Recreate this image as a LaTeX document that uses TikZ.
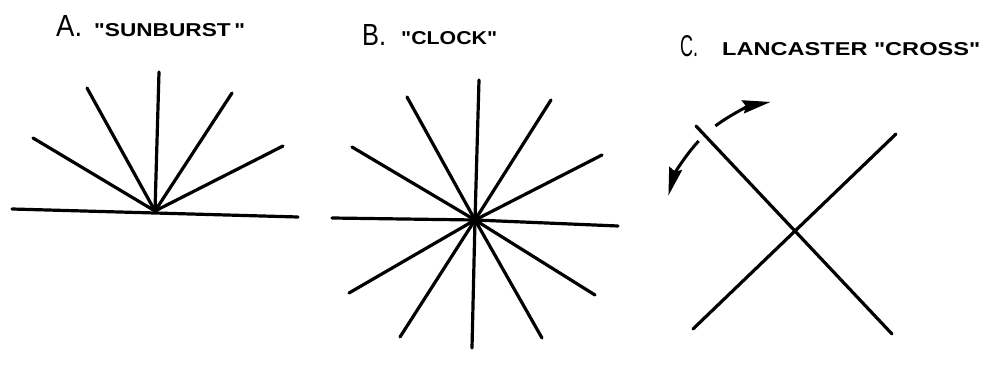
\documentclass[tikz,border=0pt]{standalone}
\usepackage{fontspec}
\setmainfont{Liberation Sans}[Ligatures=TeXOff]
\usetikzlibrary{arrows.meta,calc}
\begin{document}
\begin{tikzpicture}[x=1pt,y=1pt,
  stroke/.style={line width=3.2pt,line cap=round,black},
  rotarrow/.style={line width=3pt,-{Stealth[length=28pt,width=13pt,inset=3pt]}},
  ttl/.style={inner sep=0pt,anchor=base west}]
\useasboundingbox[fill=white] (0,0) rectangle (997,365);
% titles
\node[ttl] (tA) at (56,328) {\resizebox{26pt}{21pt}{A.}};
\node[ttl] (lA) at (94,328) {\resizebox{151pt}{13pt}{\bfseries "SUNBURST\,"}};
\node[ttl] (tB) at (362,319) {\resizebox{24pt}{21pt}{B.}};
\node[ttl] (lB) at (401,320) {\resizebox{96pt}{13pt}{\bfseries "CLOCK"}};
\node[ttl] (tC) at (680,308) {\resizebox{18pt}{21pt}{C.}};
\node[ttl] (lC) at (722,309) {\resizebox{258pt}{13pt}{\bfseries LANCASTER "CROSS"}};
% A sunburst
\coordinate (S) at (155,154);
\draw[stroke] (12,156) -- (298,148);
\foreach \p in {(159,293),(87,277),(232,272),(33,227),(283,219)}
  \draw[stroke] (S) -- \p;
% B clock
\coordinate (K) at (475,145);
\foreach \p in {(332,147),(618,139),(479,285),(472,17),(407,268),(542,27),
                (551,265),(400,28),(352,218),(595,70),(602,210),(349,72)}
  \draw[stroke] (K) -- \p;
% C cross
\coordinate (X) at (793,136);
\coordinate (c1) at (696,239);
\coordinate (c2) at (892,31);
\coordinate (c3) at (896,231);
\coordinate (c4) at (693,36);
\draw[stroke] (c1) -- (c2);
\draw[stroke] (c3) -- (c4);
\coordinate (a1) at ($(X)+(127:129)$);
\coordinate (a2) at ($(X)+(137:129)$);
\draw[rotarrow] (a1) arc[start angle=127,end angle=100,radius=129];
\draw[rotarrow] (a2) arc[start angle=137,end angle=165,radius=129];
\end{tikzpicture}
\end{document}
